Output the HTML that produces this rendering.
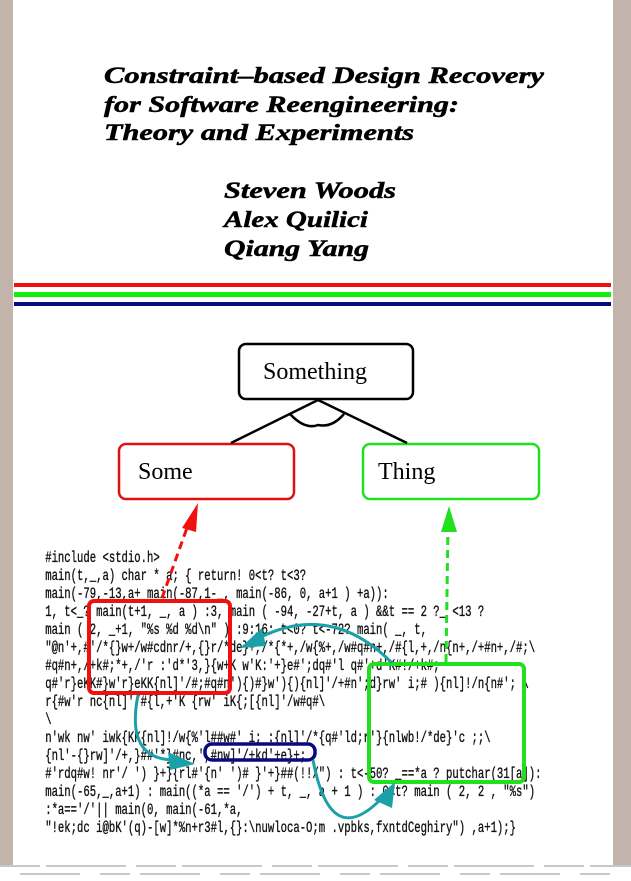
<!DOCTYPE html>
<html><head><meta charset="utf-8"><style>
html,body{margin:0;padding:0;background:#fff}
svg{display:block}
</style></head><body>
<svg width="631" height="881" viewBox="0 0 631 881" xmlns="http://www.w3.org/2000/svg">
<rect x="0" y="0" width="631" height="881" fill="#fff"/>
<rect x="0" y="0" width="13" height="865" fill="#c2b4ab"/>
<rect x="613" y="0" width="18" height="865" fill="#c2b4ab"/>
<g stroke="#222" stroke-width="1" opacity="0.5">
<line x1="0" y1="866" x2="631" y2="866" stroke-dasharray="40 6 80 10"/>
<line x1="20" y1="874" x2="620" y2="874" stroke-dasharray="60 20 30 10"/>
</g>
<g font-family="'Liberation Serif',serif" font-weight="bold" font-style="italic" font-size="23" fill="#000" stroke="#000" stroke-width="0.5">
<text x="104" y="83" textLength="440" lengthAdjust="spacingAndGlyphs">Constraint–based Design Recovery</text>
<text x="104" y="112" textLength="355" lengthAdjust="spacingAndGlyphs">for Software Reengineering:</text>
<text x="104" y="140" textLength="310" lengthAdjust="spacingAndGlyphs">Theory and Experiments</text>
<text x="224" y="198" textLength="172" lengthAdjust="spacingAndGlyphs">Steven Woods</text>
<text x="224" y="227" textLength="144" lengthAdjust="spacingAndGlyphs">Alex Quilici</text>
<text x="224" y="256" textLength="145" lengthAdjust="spacingAndGlyphs">Qiang Yang</text>
</g>
<rect x="14" y="283" width="597" height="4" fill="#f01010"/>
<rect x="14" y="292" width="597" height="5" fill="#10f010"/>
<rect x="14" y="302" width="597" height="4" fill="#0a0a80"/>
<g fill="none" stroke-width="2.5">
<rect x="239" y="344" width="174" height="55" rx="7" stroke="#000"/>
<rect x="119" y="444" width="175" height="55" rx="7" stroke="#e01010"/>
<rect x="363" y="444" width="176" height="55" rx="7" stroke="#20e020"/>
<path d="M318 400 L231 443 M318 400 L407 443" stroke="#000"/>
<path d="M290 414 Q305 430 318 425 Q332 428 344 414" stroke="#000"/>
</g>
<g font-family="'Liberation Serif',serif" font-size="24" fill="#000">
<text x="263" y="379">Something</text>
<text x="138" y="479">Some</text>
<text x="378" y="479">Thing</text>
</g>
<g font-family="'Liberation Mono',monospace" font-size="15.5" fill="#111" stroke="#111" stroke-width="0.35" transform="scale(0.685,1)">
<text x="66" y="562" xml:space="preserve">#include &lt;stdio.h&gt;</text>
<text x="66" y="580" xml:space="preserve">main(t,_,a) char * a; { return! 0&lt;t? t&lt;3?</text>
<text x="66" y="598" xml:space="preserve">main(-79,-13,a+ main(-87,1-_, main(-86, 0, a+1 ) +a)):</text>
<text x="66" y="616" xml:space="preserve">1, t&lt;_? main(t+1, _, a ) :3, main ( -94, -27+t, a ) &amp;&amp;t == 2 ?_ &lt;13 ?</text>
<text x="66" y="634" xml:space="preserve">main ( 2, _+1, "%s %d %d\n" ) :9:16: t&lt;0? t&lt;-72? main( _, t,</text>
<text x="66" y="652" xml:space="preserve">"@n'+,#'/*{}w+/w#cdnr/+,{}r/*de}+,/*{*+,/w{%+,/w#q#n+,/#{l,+,/n{n+,/+#n+,/#;\</text>
<text x="66" y="670" xml:space="preserve">#q#n+,/+k#;*+,/'r :'d*'3,}{w+K w'K:'+}e#';dq#'l q#'+d'K#!/+k#;</text>
<text x="66" y="688" xml:space="preserve">q#'r}eKK#}w'r}eKK{nl]'/#;#q#n'){)#}w'){){nl]'/+#n';d}rw' i;# ){nl]!/n{n#'; \</text>
<text x="66" y="706" xml:space="preserve">r{#w'r nc{nl]'/#{l,+'K {rw' iK{;[{nl]'/w#q#\</text>
<text x="66" y="724" xml:space="preserve">\</text>
<text x="66" y="742" xml:space="preserve">n'wk nw' iwk{KK{nl]!/w{%'l##w#' i; :{nl]'/*{q#'ld;r'}{nlwb!/*de}'c ;;\</text>
<text x="66" y="760" xml:space="preserve">{nl'-{}rw]'/+,}##'*}#nc,',#nw]'/+kd'+e}+;</text>
<text x="66" y="778" xml:space="preserve">#'rdq#w! nr'/ ') }+}{rl#'{n' ')# }'+}##(!!/") : t&lt;-50? _==*a ? putchar(31[a]):</text>
<text x="66" y="796" xml:space="preserve">main(-65,_,a+1) : main((*a == '/') + t, _, a + 1 ) : 0&lt;t? main ( 2, 2 , "%s")</text>
<text x="66" y="814" xml:space="preserve">:*a=='/'|| main(0, main(-61,*a,</text>
<text x="66" y="832" xml:space="preserve">"!ek;dc i@bK'(q)-[w]*%n+r3#l,{}:\nuwloca-O;m .vpbks,fxntdCeghiry") ,a+1);}</text>
</g>
<g fill="none" stroke-width="4">
<rect x="89" y="601" width="141" height="92" rx="5" stroke="#f01010"/>
<rect x="369" y="664" width="155" height="118" rx="5" stroke="#20e020"/>
<rect x="205" y="744" width="110" height="16" rx="7" stroke="#0a0a80" stroke-width="3.5"/>
</g>
<g fill="none" stroke-width="3">
<path d="M162 598 L188 525" stroke="#f01010" stroke-dasharray="8 5"/>
<path d="M446 662 L448 525" stroke="#20e020" stroke-dasharray="8 5"/>
<path d="M392 663 Q330 600 255 640" stroke="#1aa0a8"/>
<path d="M138 695 Q125 760 175 760" stroke="#1aa0a8"/>
<path d="M313 760 Q330 850 380 800" stroke="#1aa0a8"/>
</g>
<polygon points="198,503 182,528 196,532" fill="#f01010"/>
<polygon points="441,532 457,532 449,506" fill="#20e020"/>
<polygon points="240,648 262,628 266,646" fill="#1aa0a8"/>
<polygon points="195,764 168,752 170,770" fill="#1aa0a8"/>
<polygon points="395,782 374,800 392,808" fill="#1aa0a8"/>
</svg>
</body></html>
